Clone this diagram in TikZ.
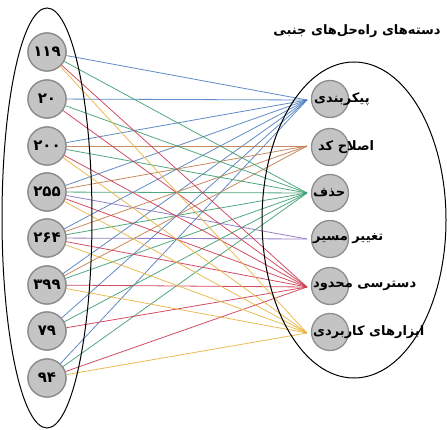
\documentclass[tikz,border=0pt]{standalone}
\usepackage{fontspec}
\newfontfamily\arabicfont[Script=Arabic]{DejaVu Sans}
\TeXXeTstate=1
\definecolor{cb}{HTML}{4F7FBF}
\definecolor{cbr}{HTML}{C07D4E}
\definecolor{cg}{HTML}{3E9E70}
\definecolor{cp}{HTML}{8872BE}
\definecolor{cr}{HTML}{CC3A52}
\definecolor{cy}{HTML}{E8B440}
\definecolor{circfill}{HTML}{C4C4C4}
\definecolor{circline}{HTML}{8C8C8C}
\tikzset{
  numnode/.style={circle,draw=circline,line width=1.3pt,fill=circfill,minimum size=38pt,inner sep=0pt,font=\arabicfont\bfseries\fontsize{15}{16}\selectfont},
  catnode/.style={circle,draw=circline,line width=1.3pt,fill=circfill,minimum size=37pt,inner sep=0pt},
  catlabel/.style={anchor=west,inner sep=0pt,font=\arabicfont\bfseries\fontsize{13}{15}\selectfont},
  link/.style={line width=0.8pt,opacity=0.9},
  group/.style={draw=black,line width=1pt}
}
\begin{document}
\begin{tikzpicture}[x=1pt,y=-1pt]
\useasboundingbox (0,0) rectangle (447,430);
% target coordinates
\coordinate (tb) at (307,100);
\coordinate (tbr) at (307,146);
\coordinate (tg) at (307,193);
\coordinate (tp) at (307,239);
\coordinate (tr) at (307,287);
\coordinate (ty) at (307,333);
% left nodes
\node[numnode] (n1) at (47,52) {\beginR ۱۱۹\endR};
\node[numnode] (n2) at (47,99) {\beginR ۲۰\endR};
\node[numnode] (n3) at (47,146) {\beginR ۲۰۰\endR};
\node[numnode] (n4) at (47,192) {\beginR ۲۵۵\endR};
\node[numnode] (n5) at (47,238) {\beginR ۲۶۴\endR};
\node[numnode] (n6) at (47,285) {\beginR ۳۹۹\endR};
\node[numnode] (n7) at (47,331) {\beginR ۷۹\endR};
\node[numnode] (n8) at (47,378) {\beginR ۹۴\endR};
% links
\foreach \n in {n1,n2,n3,n4,n5,n6,n7,n8} \draw[link,cb] (\n) -- (tb);
\foreach \n in {n3,n4,n5,n6} \draw[link,cbr] (\n) -- (tbr);
\foreach \n in {n1,n2,n3,n4,n5,n6,n7,n8} \draw[link,cg] (\n) -- (tg);
\foreach \n in {n4,n5} \draw[link,cp] (\n) -- (tp);
\foreach \n in {n1,n2,n3,n4,n5,n6,n7,n8} \draw[link,cr] (\n) -- (tr);
\foreach \n in {n1,n3,n4,n5,n6,n8} \draw[link,cy] (\n) -- (ty);
% redraw left nodes on top
\node[numnode] at (n1) {\beginR ۱۱۹\endR};
\node[numnode] at (n2) {\beginR ۲۰\endR};
\node[numnode] at (n3) {\beginR ۲۰۰\endR};
\node[numnode] at (n4) {\beginR ۲۵۵\endR};
\node[numnode] at (n5) {\beginR ۲۶۴\endR};
\node[numnode] at (n6) {\beginR ۳۹۹\endR};
\node[numnode] at (n7) {\beginR ۷۹\endR};
\node[numnode] at (n8) {\beginR ۹۴\endR};
% group ellipses
\draw[group] (47,218) ellipse [x radius=45pt, y radius=210pt];
\draw[group] (354,220) ellipse [x radius=92pt, y radius=158pt];
% right nodes
\node[catnode] (r1) at (330,99) {};
\node[catnode] (r2) at (330,147) {};
\node[catnode] (r3) at (330,193) {};
\node[catnode] (r4) at (330,239) {};
\node[catnode] (r5) at (330,286) {};
\node[catnode] (r6) at (330,332) {};
\node[catlabel] (l1) at (314,99) {\beginR پیکربندی\endR};
\node[catlabel] (l2) at (318,147) {\beginR اصلاح کد\endR};
\node[catlabel] (l3) at (313,193) {\beginR حذف\endR};
\node[catlabel] (l4) at (313,239) {\beginR تغییر مسیر\endR};
\node[catlabel] (l5) at (313,286) {\beginR دسترسی محدود\endR};
\node[catlabel] (l6) at (313,332) {\beginR ابزارهای کاربردی\endR};
% title
\node[font=\arabicfont\bfseries\fontsize{13}{15}\selectfont] (title) at (357,31) {\beginR دسته‌های راه‌حل‌های جنبی\endR};
\end{tikzpicture}
\end{document}
